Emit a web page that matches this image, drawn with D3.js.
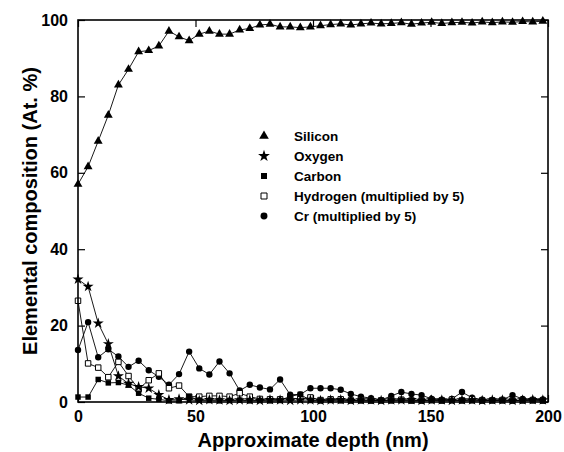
<!DOCTYPE html>
<html>
<head>
<meta charset="utf-8">
<script src="https://cdn.jsdelivr.net/npm/d3@7"></script>
<style>
  body { margin: 0; background: #fff; }
  svg text { font-family: "Liberation Sans", Arial, Helvetica, sans-serif; font-weight: bold; fill: #000; }
</style>
</head>
<body>
<svg id="chart" width="564" height="452"></svg>
<script>
// ---- data ----
const depth = [0, 4.3, 8.6, 12.9, 17.2, 21.5, 25.8, 30.1, 34.4, 38.7, 43, 47.3, 51.6, 55.9, 60.2, 64.5,
  68.8, 73.1, 77.4, 81.7, 86, 90.3, 94.6, 98.9, 103.2, 107.5, 111.8, 116.1, 120.4, 124.7, 129, 133.3,
  137.6, 141.9, 146.2, 150.5, 154.8, 159.1, 163.4, 167.7, 172, 176.3, 180.6, 184.9, 189.2, 193.5, 197.8];

const silicon = [57, 61.6, 68.3, 75.1, 83, 87.1, 91.7, 92, 93.2, 97.1, 95.6, 94.6, 96.3, 97.1, 96.3, 96.3,
  97.4, 97.8, 98.7, 98.9, 98.2, 98.2, 98, 98.2, 98.5, 98.8, 99, 98.7, 99, 99.2, 99, 99.1,
  99.3, 98.9, 99.2, 99.4, 99.1, 99.3, 99.4, 99.2, 99.5, 99.3, 99.5, 99.4, 99.6, 99.5, 99.7];

const oxygen = [32.1, 30.2, 20.6, 15.2, 6.8, 4.8, 4.0, 3.6, 1.9, 0.6, 0.8, 0.5, 0.4, 0.6, 0.5, 0.4,
  0.5, 0.5, 0.4, 0.6, 0.5, 0.4, 0.5, 0.5, 0.4, 0.5, 0.6, 0.4, 0.5, 0.5, 0.4, 0.5,
  0.5, 0.6, 0.4, 0.5, 0.5, 0.4, 0.5, 0.5, 0.4, 0.5, 0.5, 0.4, 0.5, 0.6, 0.5];

const carbon = [1.3, 1.3, 5.9, 5.0, 5.1, 4.4, 2.3, 1.0, 0.7, 0.3, 0.3, 1.4, 0.5, 0.4, 0.3, 0.4,
  0.5, 0.3, 0.4, 0.3, 0.4, 1.5, 2.0, 0.4, 0.3, 0.4, 0.3, 0.4, 0.3, 0.3, 0.4, 0.3,
  0.4, 0.3, 0.3, 0.4, 0.3, 0.3, 0.4, 0.3, 0.3, 0.4, 0.3, 0.3, 0.4, 0.3, 0.3];

const hydrogen = [26.5, 10.1, 9.0, 6.5, 10.5, 6.8, 3.4, 5.7, 7.5, 3.6, 4.3, 1.4, 1.4, 1.6, 1.6, 1.4,
  2.3, 1.4, 0.8, 0.7, 0.7, 1.0, 0.8, 1.2, 0.5, 0.7, 0.7, 0.4, 0.5, 0.4, 0.4, 0.5,
  0.6, 0.4, 0.4, 0.5, 0.4, 0.6, 0.4, 0.7, 0.4, 0.4, 0.5, 0.4, 0.4, 0.5, 0.4];

const cr = [13.6, 20.9, 11.7, 13.8, 11.9, 9.2, 10.8, 8.3, 6.6, 4.5, 7.3, 13.2, 8.8, 7.2, 10.6, 7.5,
  3.0, 4.5, 3.8, 3.3, 5.9, 1.9, 2.0, 3.6, 3.6, 3.6, 3.2, 2.1, 1.4, 1.0, 0.5, 1.6,
  2.6, 2.1, 1.8, 0.8, 0.6, 0.8, 2.6, 1.1, 0.6, 0.5, 0.6, 1.8, 0.8, 0.6, 0.7];

const xTicks = [0, 50, 100, 150, 200];
const yTicks = [0, 20, 40, 60, 80, 100];
const seriesNames = ["Silicon", "Oxygen", "Carbon", "Hydrogen (multiplied by 5)", "Cr (multiplied by 5)"];
const xTitle = "Approximate depth (nm)";
const yTitle = "Elemental composition (At. %)";

// ---- layout ----
const svg = d3.select("#chart");
const m = { left: 78, right: 548, top: 20, bottom: 402 };
const x = d3.scaleLinear().domain([0, 200]).range([m.left, m.right]);
const y = d3.scaleLinear().domain([0, 100]).range([m.bottom, m.top]);

const seriesData = [silicon, oxygen, carbon, hydrogen, cr];
const styles = [
  { type: d3.symbolTriangle, size: 34, fill: "#000", stroke: "none" },
  { type: d3.symbolStar, size: 38, fill: "#000", stroke: "none" },
  { type: d3.symbolSquare, size: 30, fill: "#000", stroke: "none" },
  { type: d3.symbolSquare, size: 30, fill: "#fff", stroke: "#000" },
  { type: d3.symbolCircle, size: 32, fill: "#000", stroke: "none" }
];

// lines
const line = d3.line().x(d => x(d[0])).y(d => y(d[1]));
const drawOrder = [4, 3, 1, 2, 0];
drawOrder.forEach(k => {
  const pts = depth.map((d, i) => [d, seriesData[k][i]]);
  svg.append("path").datum(pts).attr("d", line)
    .attr("fill", "none").attr("stroke", "#000").attr("stroke-width", 0.9);
});
// markers
drawOrder.forEach(k => {
  const st = styles[k];
  const pts = depth.map((d, i) => [d, seriesData[k][i]]);
  svg.append("g").selectAll("path").data(pts).join("path")
    .attr("transform", d => `translate(${x(d[0])},${y(d[1])})`)
    .attr("d", d3.symbol().type(st.type).size(st.size))
    .attr("fill", st.fill).attr("stroke", st.stroke).attr("stroke-width", 1);
});

// axes (inward ticks)
const tickLen = 7;
const gx = svg.append("g").attr("transform", `translate(0,${m.bottom})`)
  .call(d3.axisBottom(x).tickValues(xTicks).tickSize(-tickLen).tickPadding(9).tickFormat(d3.format("d")));
svg.append("g").attr("transform", `translate(0,${m.top})`)
  .call(d3.axisTop(x).tickValues(xTicks).tickSize(-tickLen).tickFormat(""));
const gy = svg.append("g").attr("transform", `translate(${m.left},0)`)
  .call(d3.axisLeft(y).tickValues(yTicks).tickSize(-tickLen).tickPadding(10).tickFormat(d3.format("d")));
svg.append("g").attr("transform", `translate(${m.right},0)`)
  .call(d3.axisRight(y).tickValues(yTicks).tickSize(-tickLen).tickFormat(""));
svg.selectAll(".domain").remove();
svg.selectAll(".tick line").attr("stroke", "#000").attr("stroke-width", 1.2);
svg.selectAll(".tick text").style("font-size", "16px").style("font-family", "'Liberation Sans', Arial, sans-serif").style("font-weight", "bold");

// frame
svg.append("rect").attr("x", m.left).attr("y", m.top)
  .attr("width", m.right - m.left).attr("height", m.bottom - m.top)
  .attr("fill", "none").attr("stroke", "#000").attr("stroke-width", 1.6);

// titles
svg.append("text").attr("x", (m.left + m.right) / 2).attr("y", 447)
  .attr("text-anchor", "middle").style("font-size", "20px").text(xTitle);
svg.append("text").attr("transform", `translate(37,${(m.top + m.bottom) / 2}) rotate(-90)`)
  .attr("text-anchor", "middle").style("font-size", "20px").text(yTitle);

// legend
const legY = [136, 156, 176, 196, 216];
const leg = svg.append("g");
seriesNames.forEach((name, k) => {
  const st = styles[k];
  leg.append("path").attr("transform", `translate(264,${legY[k]})`)
    .attr("d", d3.symbol().type(st.type).size(st.size + 6))
    .attr("fill", st.fill).attr("stroke", st.stroke).attr("stroke-width", 1);
  leg.append("text").attr("x", 294).attr("y", legY[k] + 5)
    .style("font-size", "13.5px").text(name);
});
</script>
</body>
</html>
